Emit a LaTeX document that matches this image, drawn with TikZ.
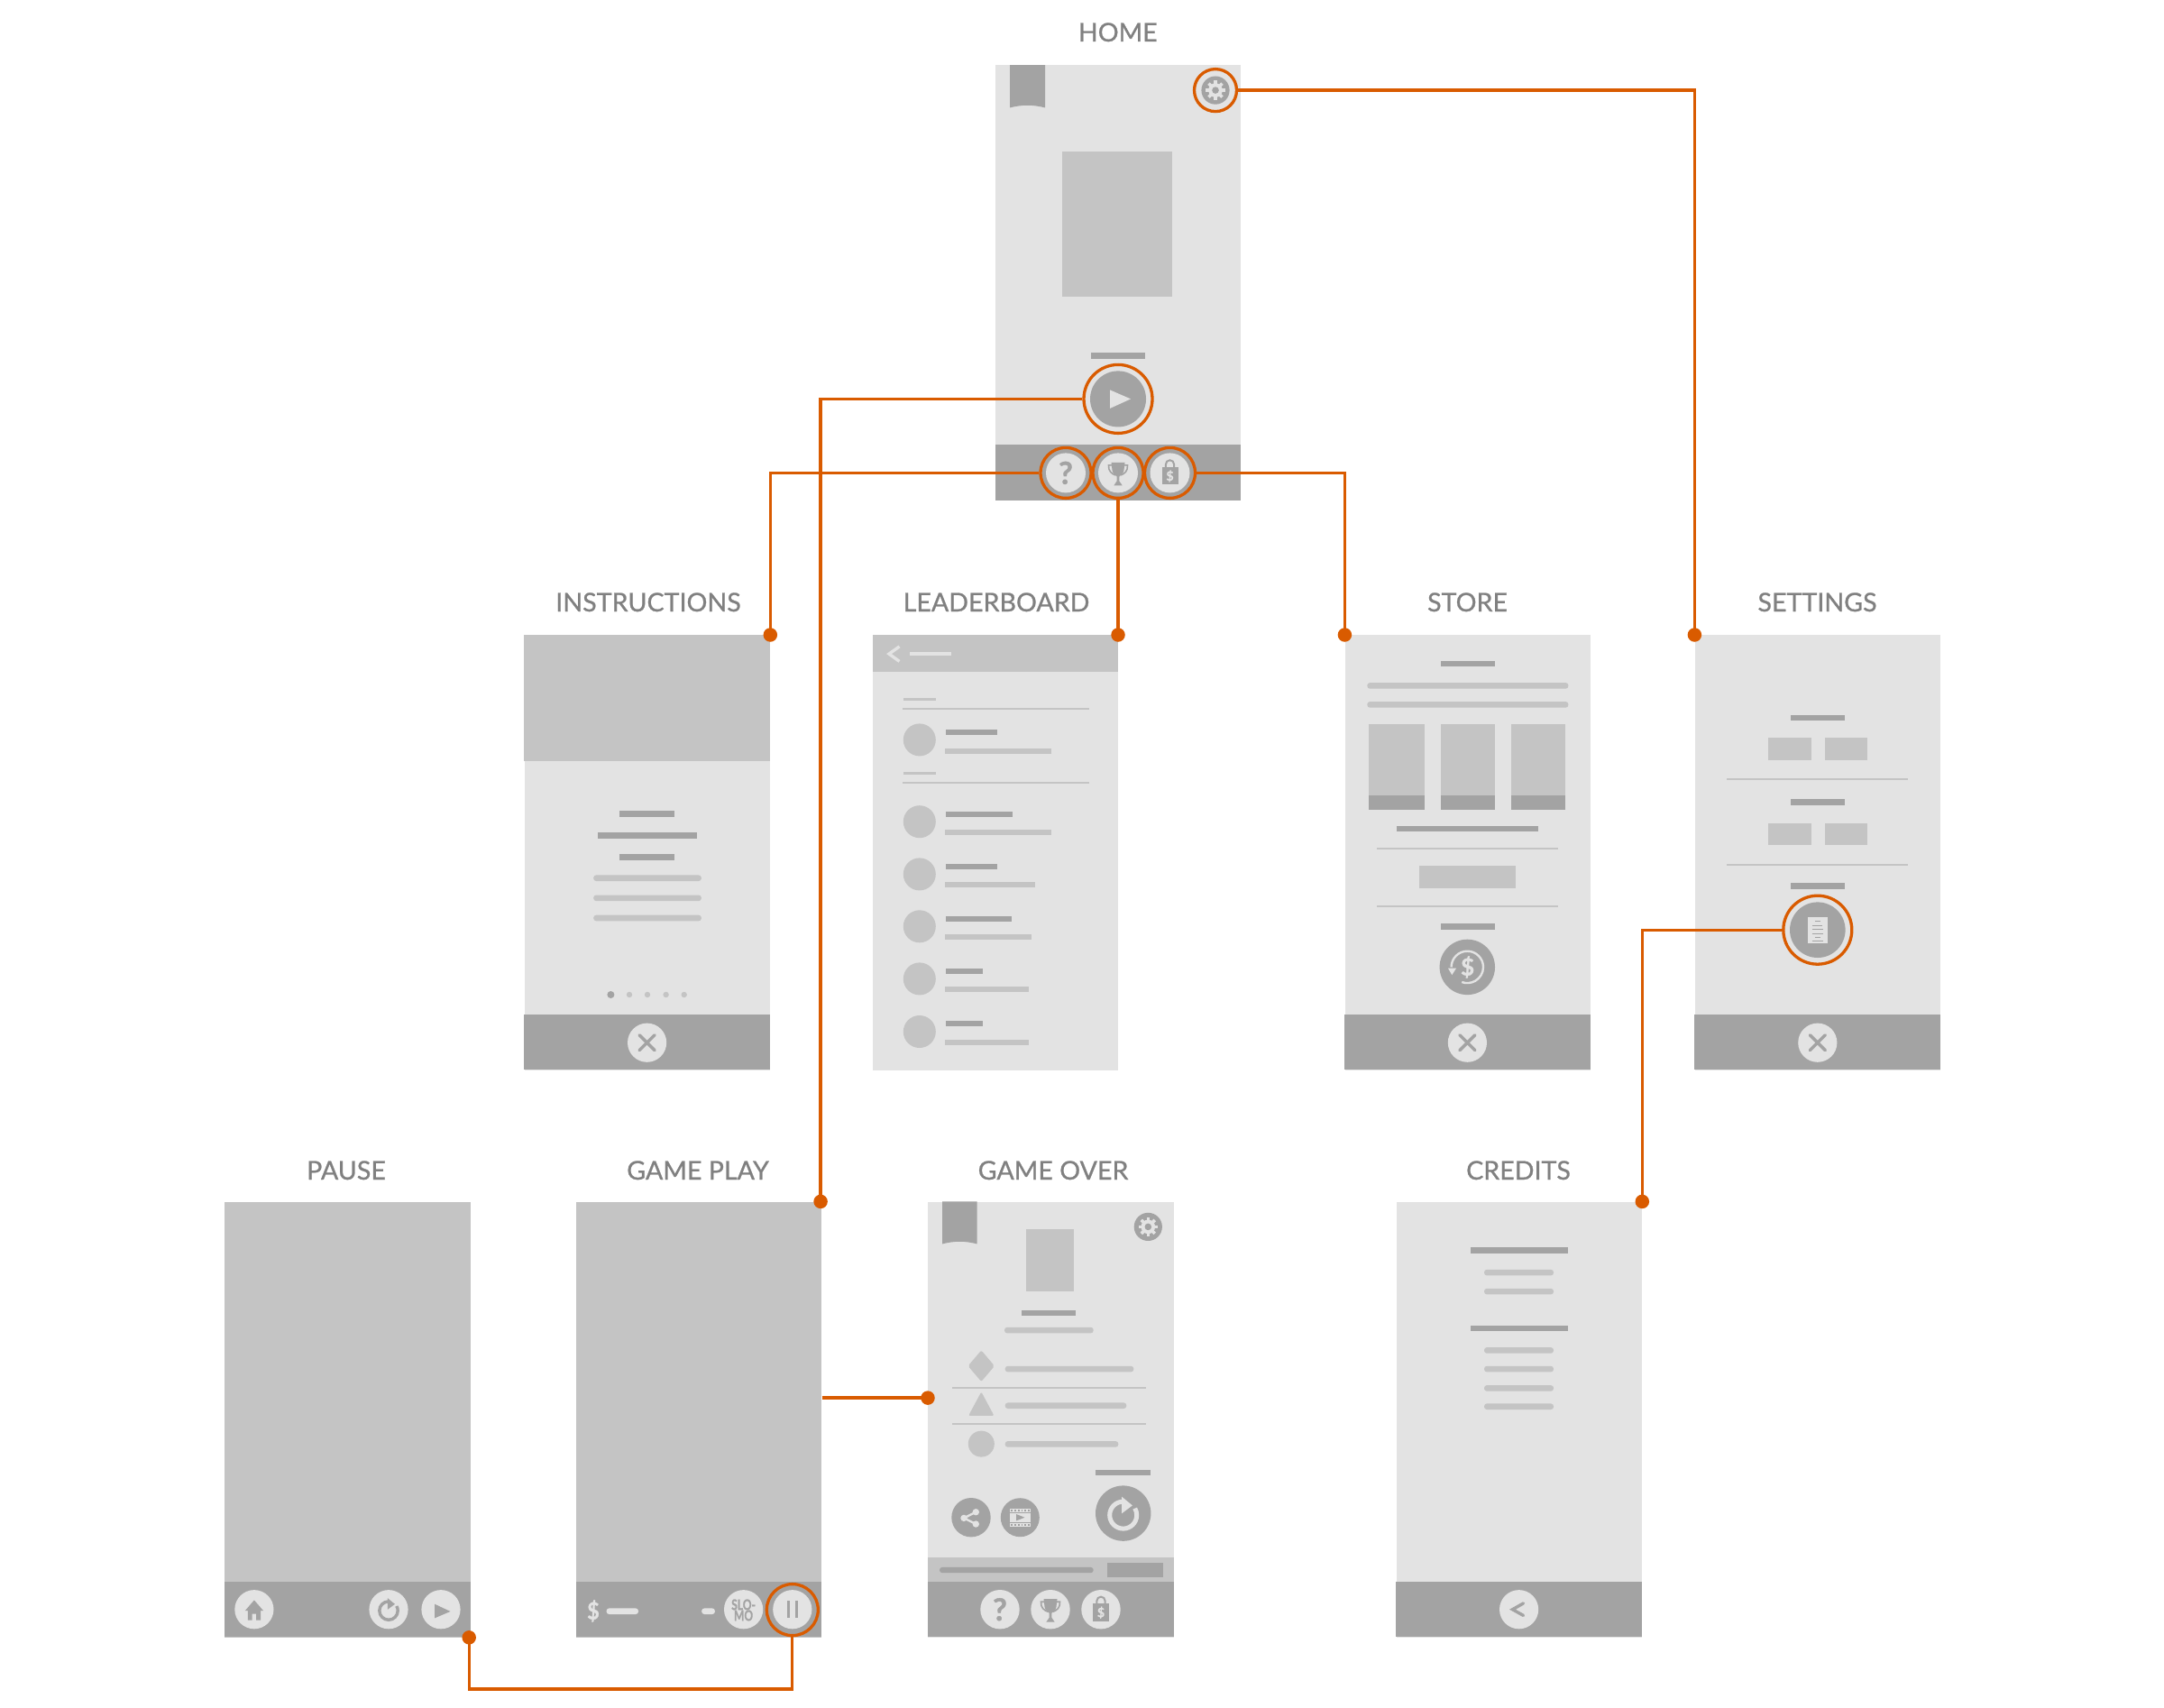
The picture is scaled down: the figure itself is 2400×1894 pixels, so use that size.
\documentclass[tikz,border=0pt]{standalone}
\usepackage{fontspec}
\setmainfont{Lato}
\newfontfamily\titlefont{Lato}[FakeBold=0.8]
\newfontfamily\glyphfont{Lato Bold}[FakeBold=1.2]
\definecolor{lt}{HTML}{E3E3E3}
\definecolor{md}{HTML}{C4C4C4}
\definecolor{dk}{HTML}{A3A3A3}
\definecolor{org}{HTML}{D95B00}
\definecolor{lab}{HTML}{808080}
\tikzset{
  screen/.style={rectangle,fill=lt,draw=none,inner sep=0pt,minimum width=272.5pt,minimum height=483pt,anchor=north west},
  title/.style={text=lab,font=\titlefont\fontsize{28.6}{29}\selectfont,inner sep=0pt,anchor=base},
  ring/.style={circle,draw=org,line width=3.3pt,fill=none,inner sep=0pt,minimum size=#1},
  dotn/.style={circle,fill=org,draw=none,inner sep=0pt,minimum size=15.5pt},
  conn/.style={draw=org,line width=3.3pt},
  glyph/.style={inner sep=0pt,font=\glyphfont\fontsize{#1}{#1}\selectfont},
  pics/gearicon/.style={code={
    \fill[dk] (0,0) circle (15.6);
    \foreach \a in {0,45,...,315}{\draw[lt,line width=3.6pt] (0,0) -- (\a:10.6);}
    \fill[lt] (0,0) circle (7.8);
    \fill[dk] (0,0) circle (3.8);
  }},
  pics/closeicon/.style={code={
    \fill[lt] (0,0) circle (21.6);
    \draw[dk,line width=3.4pt,line cap=round] (-8.5,-8.5) -- (8.5,8.5) (-8.5,8.5) -- (8.5,-8.5);
  }},
  pics/trophyicon/.style={code={
    \draw[dk,line width=1.6pt] (-6,-8.5) -- (-10.5,-8.5) .. controls (-11,-2) and (-7,1) .. (-3,2.5);
    \draw[dk,line width=1.6pt] (6,-8.5) -- (10.5,-8.5) .. controls (11,-2) and (7,1) .. (3,2.5);
    \fill[dk] (-7.5,-11.5) -- (7.5,-11.5) -- (6.5,-3) .. controls (6,1) and (3,3) .. (1.3,4) -- (1.3,9) -- (4.7,14) -- (-4.7,14) -- (-1.3,9) -- (-1.3,4) .. controls (-3,3) and (-6,1) .. (-6.5,-3) -- cycle;
  }},
  pics/bagicon/.style={code={
    \draw[dk,line width=2pt] (-4.6,-5) -- (-4.6,-9.5) arc[start angle=180,end angle=360,radius=4.6] -- (4.6,-5);
    \fill[dk] (-9,-6.5) rectangle (9,13);
    \node[glyph=14,text=lt] at (0,3.5) {\$};
  }},
  pics/replayicon/.style n args={2}{code={
    \begin{scope}[scale=#2]
      \draw[#1,line width=#2*5pt] (0,-13) arc[start angle=-90,end angle=-390,radius=15];
      \fill[#1] (-1.7,-18.5) -- (10.2,-8.7) -- (-1.7,0.2) -- cycle;
    \end{scope}
  }},
  pics/docicon/.style={code={
    \fill[lt] (-11,-14.3) rectangle (11,14.3);
    \foreach \y/\a/\b in {-9.5/-3/3,-5/-6/5,-0.5/-6/6,4/-6/6,8.5/-3/3,12/-6/6}{\draw[dk,line width=1pt] (\a,\y) -- (\b,\y);}
  }},
}
\newcommand{\dbr}[3]{\fill[dk] (#1,#3-3.2) rectangle (#2,#3+3.2);}
\newcommand{\rbr}[3]{\fill[md,rounded corners=3pt] (#1,#3-3.3) rectangle (#2,#3+3.3);}
\newcommand{\sepln}[3]{\fill[md] (#1,#3-1.2) rectangle (#2,#3+1.2);}
\begin{document}
\begin{tikzpicture}[x=1pt,y=-1pt]
\useasboundingbox (0,0.6) rectangle (2400,1894.6);

% ---------- screens
\node[screen] (home) at (1103.5,72.7) {};
\node[screen,minimum height=482.4pt] (instr) at (581.4,704.6) {};
\node[screen,minimum height=482.4pt] (lead) at (967.6,704.6) {};
\node[screen,minimum height=482.4pt] (store) at (1491.4,704.6) {};
\node[screen,minimum height=482.4pt] (settings) at (1879.4,704.6) {};
\node[screen,fill=md] (pause) at (248.8,1333) {};
\node[screen,fill=md] (gameplay) at (638.6,1333) {};
\node[screen] (gameover) at (1029,1333) {};
\node[screen] (credits) at (1548.4,1333) {};

% ---------- titles
\node[title] (thome) at (1239.8,46.6) {HOME};
\node[title] (tinstr) at (719,678.6) {INSTRUCTIONS};
\node[title] (tlead) at (1105,678.6) {LEADERBOARD};
\node[title] (tstore) at (1627.5,678.6) {STORE};
\node[title] (tsett) at (2015.5,678.6) {SETTINGS};
\node[title] (tpause) at (384,1308.6) {PAUSE};
\node[title] (tgame) at (774,1308.6) {GAME PLAY};
\node[title] (tover) at (1168,1308.6) {GAME OVER};
\node[title] (tcred) at (1684,1308.6) {CREDITS};

% ---------- HOME
\fill[dk] (1120,72.7) -- (1159,72.7) -- (1159,120) .. controls (1145,116.5) and (1134,116.5) .. (1120,120) -- cycle;
\fill[md] (1178,169) rectangle (1300,330);
\dbr{1210}{1270}{395}
\fill[dk] (1103.5,494) rectangle (1376,555.7);
\pic at (1348,100.7) {gearicon};
\node[ring=47pt] (gearring) at (1348,100.7) {};
\fill[dk] (1240,443) circle (31);
\fill[lt] (1231,433) -- (1254,443) -- (1231,453.5) -- cycle;
\node[ring=76pt] (playring) at (1240,443) {};
\fill[lt] (1182,525) circle (22);
\fill[lt] (1240,525) circle (22);
\fill[lt] (1297.5,525) circle (22);
\node[glyph=34,text=dk] (qhome) at (1182,525) {?};
\pic at (1240,525) {trophyicon};
\pic at (1297.5,525) {bagicon};
\node[ring=56pt] (helpring) at (1182,525) {};
\node[ring=56pt] (cupring) at (1240,525) {};
\node[ring=56pt] (bagring) at (1297.5,525) {};

% ---------- INSTRUCTIONS
\fill[md] (581.4,704.6) rectangle (854,844.6);
\fill[dk] (581.4,1126) rectangle (854,1187);
\dbr{687.2}{748}{903.2}
\dbr{662.7}{772.5}{927.1}
\dbr{687.2}{748}{951}
\rbr{658.2}{777.9}{974.3}
\rbr{658.2}{777.9}{996.4}
\rbr{658.2}{777.9}{1018.6}
\fill[dk] (677.4,1103.6) circle (4);
\foreach \x in {698,718,738.6,758.7}{\fill[md] (\x,1103.6) circle (3.2);}
\pic at (717.6,1156.8) {closeicon};

% ---------- LEADERBOARD
\fill[md] (967.6,704.6) rectangle (1240,746);
\draw[lt,line width=3.4pt] (997.5,717.5) -- (986,725.7) -- (997.5,734);
\fill[lt] (1008.7,724) rectangle (1054.6,727.6);
\fill[md] (1002,775) rectangle (1037.7,778);
\sepln{1001}{1207.8}{786.8}
\fill[md] (1002,857) rectangle (1037.7,860);
\sepln{1001}{1207.8}{868.6}
\foreach \cy/\dy/\dx/\ly/\lx in {
  821/812.9/1105.5/833.2/1165.8,
  911.8/903.2/1123.4/923.9/1165.8,
  970/961.4/1105.5/981.8/1147.5,
  1027.9/1019.3/1122/1040/1144.4,
  1086/1077.5/1089.5/1097.9/1140.8,
  1144.6/1136/1089.5/1156.4/1140.8}{
  \fill[md] (1019.8,\cy) circle (18);
  \fill[dk] (1048.8,\dy-3) rectangle (\dx,\dy+3);
  \fill[md] (1048,\ly-3) rectangle (\lx,\ly+3);
}

% ---------- STORE
\fill[dk] (1491.4,1126) rectangle (1764,1187);
\dbr{1597.5}{1657.7}{736.8}
\rbr{1516.3}{1739.4}{761}
\rbr{1516.3}{1739.4}{782}
\foreach \a/\b in {1518.1/1579.6,1597.5/1657.7,1676/1736.2}{
  \fill[md] (\a,803.6) rectangle (\b,882.9);
  \fill[dk] (\a,882.9) rectangle (\b,898.6);
}
\dbr{1548.9}{1705.9}{919.3}
\sepln{1526.8}{1728.4}{941.8}
\fill[md] (1574.1,961) rectangle (1680.6,986);
\sepln{1526.8}{1728.4}{1005.7}
\dbr{1597.5}{1657.7}{1028.2}
\fill[dk] (1627.3,1073) circle (30.7);
\draw[lt,line width=2.4pt] (1609.6,1073) arc[start angle=180,end angle=470,radius=17.7];
\fill[lt] (1606,1074.3) -- (1615,1074.3) -- (1610.3,1081.7) -- cycle;
\node[glyph=26,text=lt] (dollar) at (1627.6,1073) {\$};
\pic at (1627.4,1156.8) {closeicon};

% ---------- SETTINGS
\fill[dk] (1879.4,1126) rectangle (2152,1187);
\dbr{1986}{2046}{796.8}
\fill[md] (1961.2,818.9) rectangle (2008.5,843.2);
\fill[md] (2024,818.9) rectangle (2071.4,843.2);
\sepln{1914.8}{2116.4}{864.6}
\dbr{1986}{2046}{890}
\fill[md] (1961.2,913.6) rectangle (2008.5,937.9);
\fill[md] (2024,913.6) rectangle (2071.4,937.9);
\sepln{1914.8}{2116.4}{959.3}
\dbr{1986}{2046}{983.2}
\fill[dk] (2015.8,1031.8) circle (30.8);
\pic at (2015.8,1031.8) {docicon};
\node[ring=76pt] (docring) at (2015.8,1031.8) {};
\pic at (2015.8,1156.8) {closeicon};

% ---------- PAUSE
\fill[dk] (248.8,1755) rectangle (521.6,1816);
\fill[lt] (281.9,1785.3) circle (21.6);
\fill[dk] (281.9,1775) -- (292,1786.6) -- (289,1786.6) -- (289,1797.3) -- (284.2,1797.3) -- (284.2,1790.3) -- (279.6,1790.3) -- (279.6,1797.3) -- (274.9,1797.3) -- (274.9,1786.6) -- (271.9,1786.6) -- cycle;
\fill[lt] (431,1785.3) circle (21.6);
\pic at (431,1785.3) {replayicon={dk}{.68}};
\fill[lt] (489,1785.3) circle (21.6);
\fill[dk] (482,1779.3) -- (499.5,1787.5) -- (482,1795) -- cycle;

% ---------- GAME PLAY
\fill[dk] (638.6,1755) rectangle (911,1816);
\node[glyph=26,text=lt,xscale=.9,transform shape] (dollarb) at (658,1787) {\$};
\fill[lt,rounded corners=3pt] (672.6,1784) rectangle (708,1790.6);
\fill[lt,rounded corners=3pt] (778.2,1784) rectangle (792.9,1790.6);
\fill[lt] (824.6,1785.3) circle (21.6);
\node[glyph=16,text=dk,align=center,xscale=.75,transform shape,font=\glyphfont\fontsize{16}{12}\selectfont] (slomo) at (824.6,1786) {SLO-\\MO};
\fill[lt] (878.8,1785.3) circle (21.6);
\fill[dk] (872.5,1776) rectangle (875.7,1794.7);
\fill[dk] (881.8,1776) rectangle (885,1794.7);
\node[ring=57pt] (pausering) at (878.8,1785.7) {};

% ---------- GAME OVER
\fill[dk] (1045,1333) -- (1083.7,1333) -- (1083.7,1380) .. controls (1070,1376.5) and (1059,1376.5) .. (1045,1380) -- cycle;
\pic at (1273.3,1361) {gearicon};
\fill[md] (1138,1363.7) rectangle (1190.7,1433);
\dbr{1133}{1193.3}{1456.3}
\rbr{1114}{1212.7}{1475.7}
\fill[md,rounded corners=2pt] (1088.3,1498) -- (1103,1515.3) -- (1088.3,1532.6) -- (1073.6,1515.3) -- cycle;
\rbr{1114.7}{1257.3}{1518.7}
\sepln{1056}{1270.7}{1539.3}
\fill[md,rounded corners=2pt] (1088.3,1544) -- (1102.5,1570.5) -- (1074.1,1570.5) -- cycle;
\rbr{1114.7}{1249.3}{1559.3}
\sepln{1056}{1270.7}{1579.7}
\fill[md] (1088.3,1601.7) circle (14.5);
\rbr{1114.7}{1240.3}{1602}
\dbr{1215.3}{1276}{1633.7}
\fill[dk] (1077,1683.3) circle (21.7);
\draw[lt,line width=2.4pt] (1082.3,1677.3) -- (1069,1684) -- (1082.3,1690.6);
\fill[lt] (1082.3,1677.3) circle (3.7) (1069,1684) circle (3.7) (1082.3,1690.6) circle (3.7);
\fill[dk] (1131.3,1683.3) circle (21.5);
\fill[lt] (1120,1673.3) rectangle (1142.6,1693.3);
\foreach \x in {1122,1125.8,1129.6,1133.4,1137.2,1141}{\fill[dk] (\x-.9,1674.5) rectangle (\x+.9,1676.3);\fill[dk] (\x-.9,1690.3) rectangle (\x+.9,1692.1);}
\fill[dk] (1120,1677.2) rectangle (1142.6,1678);
\fill[dk] (1120,1688.6) rectangle (1142.6,1689.4);
\fill[dk] (1127,1679.6) -- (1136.4,1683.3) -- (1127,1687) -- cycle;
\fill[dk] (1245.7,1678.7) circle (30.7);
\pic at (1245.7,1678.7) {replayicon={lt}{1}};
\fill[md] (1029,1728) rectangle (1301.5,1755);
\fill[dk,rounded corners=3pt] (1042,1738.5) rectangle (1212.7,1744.8);
\fill[dk] (1228,1733.7) rectangle (1290,1749.7);
\fill[dk] (1029,1755) rectangle (1301.5,1816);
\fill[lt] (1109,1785.3) circle (21.7);
\fill[lt] (1165,1785.3) circle (21.7);
\fill[lt] (1221,1785.3) circle (21.7);
\node[glyph=34,text=dk] (qover) at (1109,1785.3) {?};
\pic at (1165,1785.3) {trophyicon};
\pic at (1221,1785.3) {bagicon};

% ---------- CREDITS
\fill[dk] (1548.4,1755) rectangle (1821,1816);
\dbr{1631}{1738.7}{1387}
\rbr{1646}{1723}{1411.7}
\rbr{1646}{1723}{1432.7}
\dbr{1631}{1738.7}{1473.7}
\rbr{1646}{1723}{1498}
\rbr{1646}{1723}{1518.7}
\rbr{1646}{1723}{1540}
\rbr{1646}{1723}{1560.3}
\fill[lt] (1684.6,1785.3) circle (21.6);
\draw[dk,line width=3.4pt,line cap=round] (1689.5,1778.5) -- (1677.5,1785.3) -- (1689.5,1792);

% ---------- connector end dots
\node[dotn] (dinstr) at (instr.north east) {};
\node[dotn,xshift=-.5pt] (dlead) at (lead.north east) {};
\node[dotn] (dstore) at (store.north west) {};
\node[dotn] (dsett) at (settings.north west) {};
\node[dotn,xshift=-1.4pt] (dgame) at (gameplay.north east) {};
\node[dotn] (dcred) at (credits.north east) {};
\node[dotn] (dover) at (1029,1550.7) {};
\node[dotn,xshift=-1.5pt] (dpause) at (pause.south east) {};
\coordinate (below) at (700,1873.7);

% ---------- connectors
\draw[conn] (gearring.east) -| (dsett.center);
\draw[conn] (playring.west) -| (dgame.center);
\draw[conn] (helpring.west) -| (dinstr.center);
\draw[conn] (cupring.south) -- (cupring.south |- dlead.center);
\draw[conn] (bagring.east) -| (dstore.center);
\draw[conn] (docring.west) -| (dcred.center);
\draw[conn] (dover.center -| gameplay.east) -- (dover.center);
\draw[conn] (pausering.south) |- (below) -| (dpause.center);
\end{tikzpicture}
\end{document}
